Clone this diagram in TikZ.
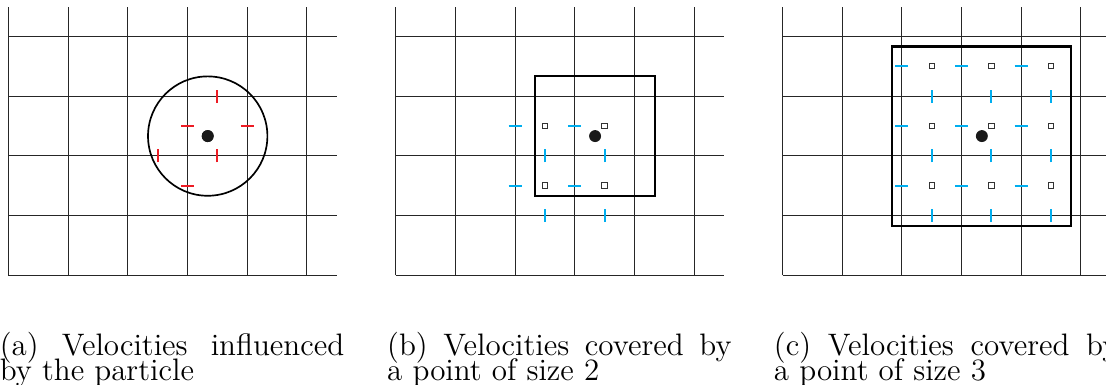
\documentclass[tikz,border=0pt]{standalone}
\usepackage{fontspec}
\usepackage{tikz}
\usetikzlibrary{positioning}
\usepackage{xcolor}
\definecolor{velred}{RGB}{237,28,36}
\definecolor{velblue}{RGB}{0,174,239}

\begin{document}
\begin{tikzpicture}[gridlines/.style={line width=0.5pt,black!85},
  particle/.style={circle,fill=black!90,inner sep=0pt,minimum size=0.2cm},
  cellpt/.style={rectangle,draw=black!80,fill=white,line width=0.5pt,inner sep=0pt,minimum size=0.09cm},
  region/.style={draw,line width=1pt,inner sep=0pt},
  vtick/.style={line width=1pt},
  caption/.style={text width=5.77cm,align=justify,inner sep=0pt,anchor=base west,
    font={\fontsize{14.8}{12.3}\selectfont\lineskiplimit=-20pt}}]
  \useasboundingbox (-0.14,-1.84) rectangle (18.39,4.61);

  % (a) particle and its kernel
  \draw[gridlines] (0,0) grid (5.5,4.5);
  \node[particle] (pa) at (3.34,2.33) {};
  \draw[line width=0.8pt] (pa.center) circle (1);
  \draw[vtick,velred] (3,2.5) +(-0.11,0) -- +(0.11,0);
  \draw[vtick,velred] (4,2.5) +(-0.11,0) -- +(0.11,0);
  \draw[vtick,velred] (3,1.5) +(-0.11,0) -- +(0.11,0);
  \draw[vtick,velred] (3.5,3) +(0,-0.11) -- +(0,0.11);
  \draw[vtick,velred] (3.5,2) +(0,-0.11) -- +(0,0.11);
  \draw[vtick,velred] (2.5,2) +(0,-0.11) -- +(0,0.11);
  \node[particle] at (pa) {};
  \node[caption] (capa) at (-0.15,-1.34) {(a) Velocities influenced\linebreak by the particle};

  % (b) point of size 2
  \begin{scope}[xshift=6.49cm]
    \draw[gridlines] (0,0) grid (5.5,4.5);
    \coordinate (pb) at (3.34,2.33);
    \foreach \i in {2,3}
      \foreach \j in {1,2} {
        \draw[vtick,velblue] (\i,\j+0.5) +(-0.11,0) -- +(0.11,0);
        \draw[vtick,velblue] (\i+0.5,\j) +(0,-0.11) -- +(0,0.11);
        \node[cellpt] at (\i+0.5,\j+0.5) {};
      }
    \node[region,minimum size=2cm] (sb) at (pb) {};
    \node[particle] at (pb) {};
    \node[caption] (capb) at (-0.15,-1.34) {(b) Velocities covered by\linebreak a point of size 2};
  \end{scope}

  % (c) point of size 3
  \begin{scope}[xshift=12.97cm]
    \draw[gridlines] (0,0) grid (5.5,4.5);
    \coordinate (pc) at (3.34,2.33);
    \foreach \i in {2,3,4}
      \foreach \j in {1,2,3} {
        \draw[vtick,velblue] (\i,\j+0.5) +(-0.11,0) -- +(0.11,0);
        \draw[vtick,velblue] (\i+0.5,\j) +(0,-0.11) -- +(0,0.11);
        \node[cellpt] at (\i+0.5,\j+0.5) {};
      }
    \node[region,minimum size=3cm] (sc) at (pc) {};
    \node[particle] at (pc) {};
    \node[caption] (capc) at (-0.15,-1.34) {(c) Velocities covered by\linebreak a point of size 3};
  \end{scope}
\end{tikzpicture}
\end{document}
